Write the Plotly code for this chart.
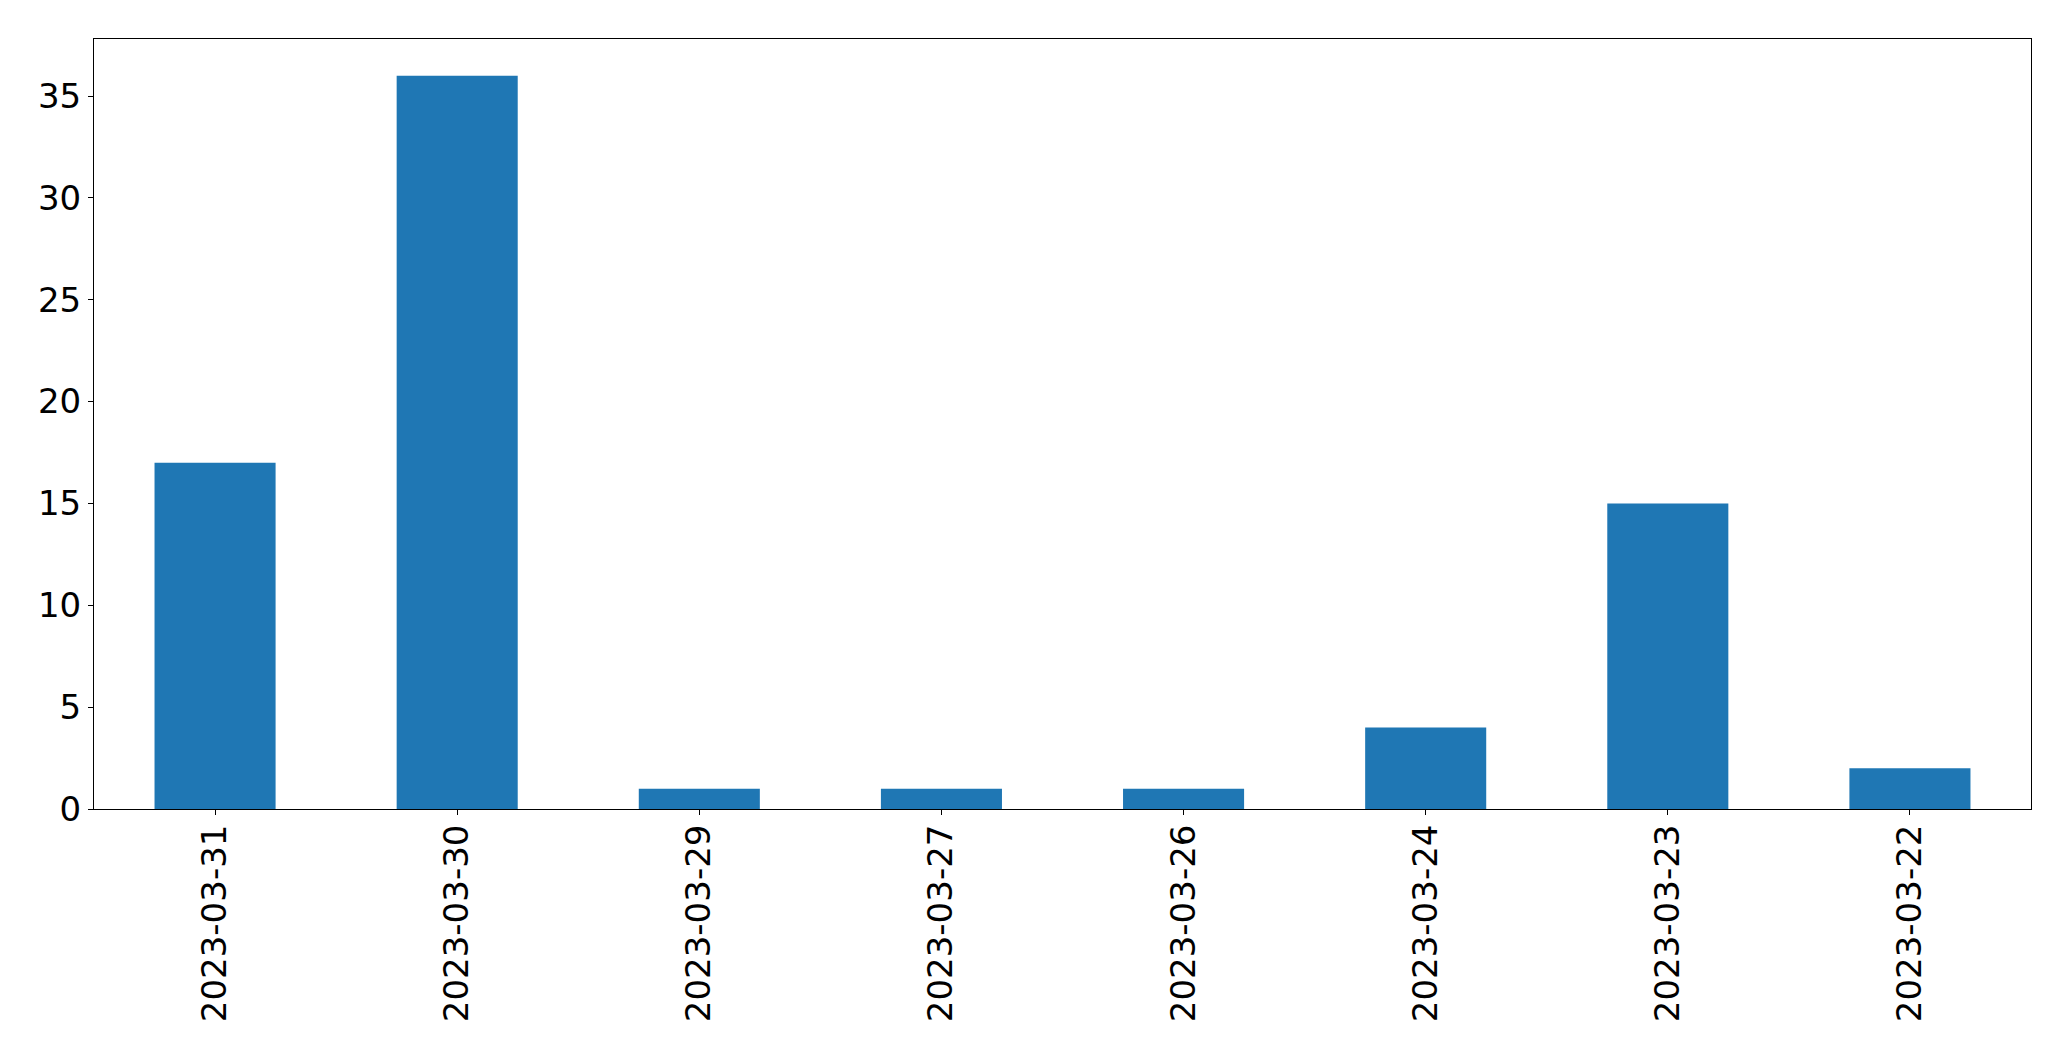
import plotly.graph_objects as go

dates = ["2023-03-31", "2023-03-30", "2023-03-29", "2023-03-27",
         "2023-03-26", "2023-03-24", "2023-03-23", "2023-03-22"]
counts = [17, 36, 1, 1, 1, 4, 15, 2]
y_ticks = [0, 5, 10, 15, 20, 25, 30, 35]

fig = go.Figure(go.Bar(x=dates, y=counts, marker=dict(color="#1f77b4", line=dict(width=0))))

fig.update_layout(
    width=2063, height=1053,
    margin=dict(l=86, r=40, t=31, b=252),
    plot_bgcolor="white", paper_bgcolor="white",
    bargap=0.5,
    showlegend=False,
    font=dict(family="DejaVu Sans", size=34, color="black"),
)
fig.update_xaxes(
    type="category", range=[-0.5, 7.5], automargin=False,
    tickangle=-90, ticks="outside", ticklen=5, tickwidth=1, tickcolor="black",
    ticklabelstandoff=-4,
    showline=True, linecolor="black", linewidth=1, mirror=True,
    showgrid=False, zeroline=False,
    tickfont=dict(family="DejaVu Sans", size=34, color="black"),
)
fig.update_yaxes(
    range=[0, 37.8], tickvals=y_ticks, automargin=False,
    ticks="outside", ticklen=5, tickwidth=1, tickcolor="black",
    showline=True, linecolor="black", linewidth=1, mirror=True,
    showgrid=False, zeroline=False,
    tickfont=dict(family="DejaVu Sans", size=34, color="black"),
)

fig.write_html("out.html")
